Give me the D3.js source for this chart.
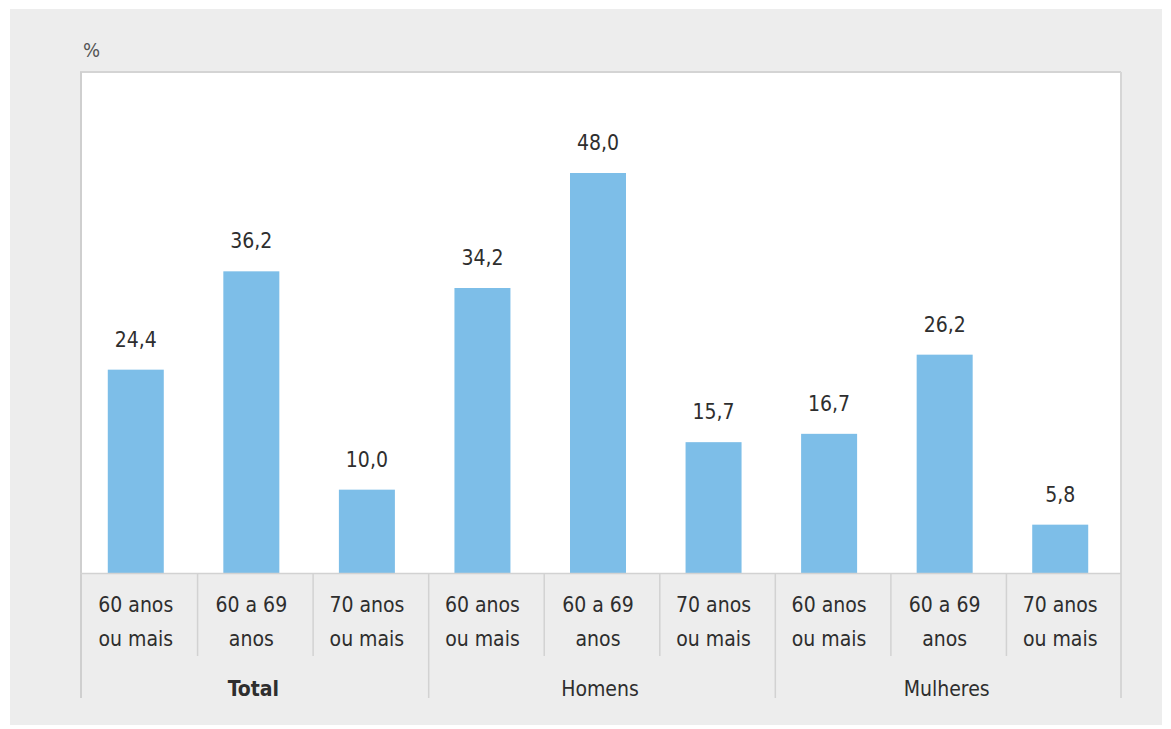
<!DOCTYPE html>
<html>
<head>
<meta charset="utf-8">
<script src="https://cdn.jsdelivr.net/npm/d3@7"></script>
<style>
  html, body { margin: 0; padding: 0; background: #ffffff; }
  svg { display: block; }
  text { font-family: "DejaVu Sans Condensed", "DejaVu Sans", sans-serif; font-stretch: condensed; }
</style>
</head>
<body>
<svg id="chart" width="1171" height="729"></svg>
<script>
// ---- data ----
const groups = ["Total", "Homens", "Mulheres"];
const ageLabels = [["60 anos", "ou mais"], ["60 a 69", "anos"], ["70 anos", "ou mais"]];
const categories = ["T60+", "T60-69", "T70+", "H60+", "H60-69", "H70+", "M60+", "M60-69", "M70+"];
const values = [24.4, 36.2, 10.0, 34.2, 48.0, 15.7, 16.7, 26.2, 5.8];
const yUnit = "%";

// ---- layout ----
const svg = d3.select("#chart");
const plot = { left: 80, right: 1120, top: 73, bottom: 573 };

svg.append("rect").attr("x", 10).attr("y", 9).attr("width", 1152).attr("height", 716).attr("fill", "#ededed");
svg.append("rect").attr("x", plot.left).attr("y", plot.top)
  .attr("width", plot.right - plot.left).attr("height", plot.bottom - plot.top).attr("fill", "#ffffff");

const x = d3.scaleBand().domain(categories).range([plot.left, plot.right]).paddingInner(0).paddingOuter(0);
const y = d3.scaleLinear().domain([0, 60]).range([plot.bottom, plot.top]);
const barW = 56;
const fmt = d3.formatLocale({ decimal: ",", thousands: ".", grouping: [3], currency: ["", ""] }).format(".1f");

// frame lines
svg.append("line").attr("x1", plot.left).attr("x2", plot.right + 1).attr("y1", plot.top - 1).attr("y2", plot.top - 1)
  .attr("stroke", "#d4d4d4").attr("stroke-width", 2);
svg.append("line").attr("x1", plot.left + 1).attr("x2", plot.left + 1).attr("y1", plot.top - 1).attr("y2", 698)
  .attr("stroke", "#cfcfcf").attr("stroke-width", 2);
svg.append("line").attr("x1", plot.right + 1).attr("x2", plot.right + 1).attr("y1", plot.top - 1).attr("y2", 698)
  .attr("stroke", "#d6d6d6").attr("stroke-width", 2);

// bars
svg.append("g").selectAll("rect").data(values).join("rect")
  .attr("x", (d, i) => x(categories[i]) + x.bandwidth() / 2 - barW / 2 - 2)
  .attr("y", d => y(d))
  .attr("width", barW)
  .attr("height", d => y(0) - y(d))
  .attr("fill", "#7dbee8");

// value labels
svg.append("g").selectAll("text").data(values).join("text")
  .attr("x", (d, i) => x(categories[i]) + x.bandwidth() / 2 - 2)
  .attr("y", d => y(d) - 23)
  .attr("text-anchor", "middle")
  .attr("font-size", 21)
  .attr("fill", "#2e2e2e")
  .text(d => fmt(d));

// baseline
svg.append("line").attr("x1", plot.left).attr("x2", plot.right + 1).attr("y1", plot.bottom + 0.5).attr("y2", plot.bottom + 0.5)
  .attr("stroke", "#d2d2d2").attr("stroke-width", 1.5);

// category separators
categories.forEach((c, i) => {
  if (i === 0) return;
  const isGroup = i % 3 === 0;
  svg.append("line")
    .attr("x1", x(c) + 2).attr("x2", x(c) + 2)
    .attr("y1", plot.bottom).attr("y2", isGroup ? 698 : 656)
    .attr("stroke", "#d2d2d2").attr("stroke-width", 1.5);
});

// x axis (category tick labels)
const axis = d3.axisBottom(x).tickSize(0).tickFormat((d, i) => ageLabels[i % 3].join("|"));
const gx = svg.append("g").attr("transform", `translate(-2,${plot.bottom})`).call(axis);
gx.select(".domain").remove();
gx.selectAll(".tick text").each(function () {
  const t = d3.select(this);
  const parts = t.text().split("|");
  t.text(null).attr("y", null).attr("dy", null)
    .attr("font-size", 21).attr("fill", "#2e2e2e")
    .attr("font-family", "'DejaVu Sans Condensed', 'DejaVu Sans', sans-serif");
  parts.forEach((p, k) => {
    t.append("tspan").attr("x", 0).attr("y", k === 0 ? 39 : 73).text(p);
  });
});

// group labels
groups.forEach((g, gi) => {
  const c0 = categories[gi * 3], c2 = categories[gi * 3 + 2];
  const cx = (x(c0) + x(c2) + x.bandwidth()) / 2;
  svg.append("text").attr("x", cx).attr("y", 696)
    .attr("text-anchor", "middle").attr("font-size", 21)
    .attr("font-weight", gi === 0 ? "bold" : "normal")
    .attr("fill", "#2e2e2e").text(g);
});

// unit label
svg.append("text").attr("x", 83).attr("y", 57).attr("font-size", 20).attr("fill", "#555").text(yUnit);
</script>
</body>
</html>
